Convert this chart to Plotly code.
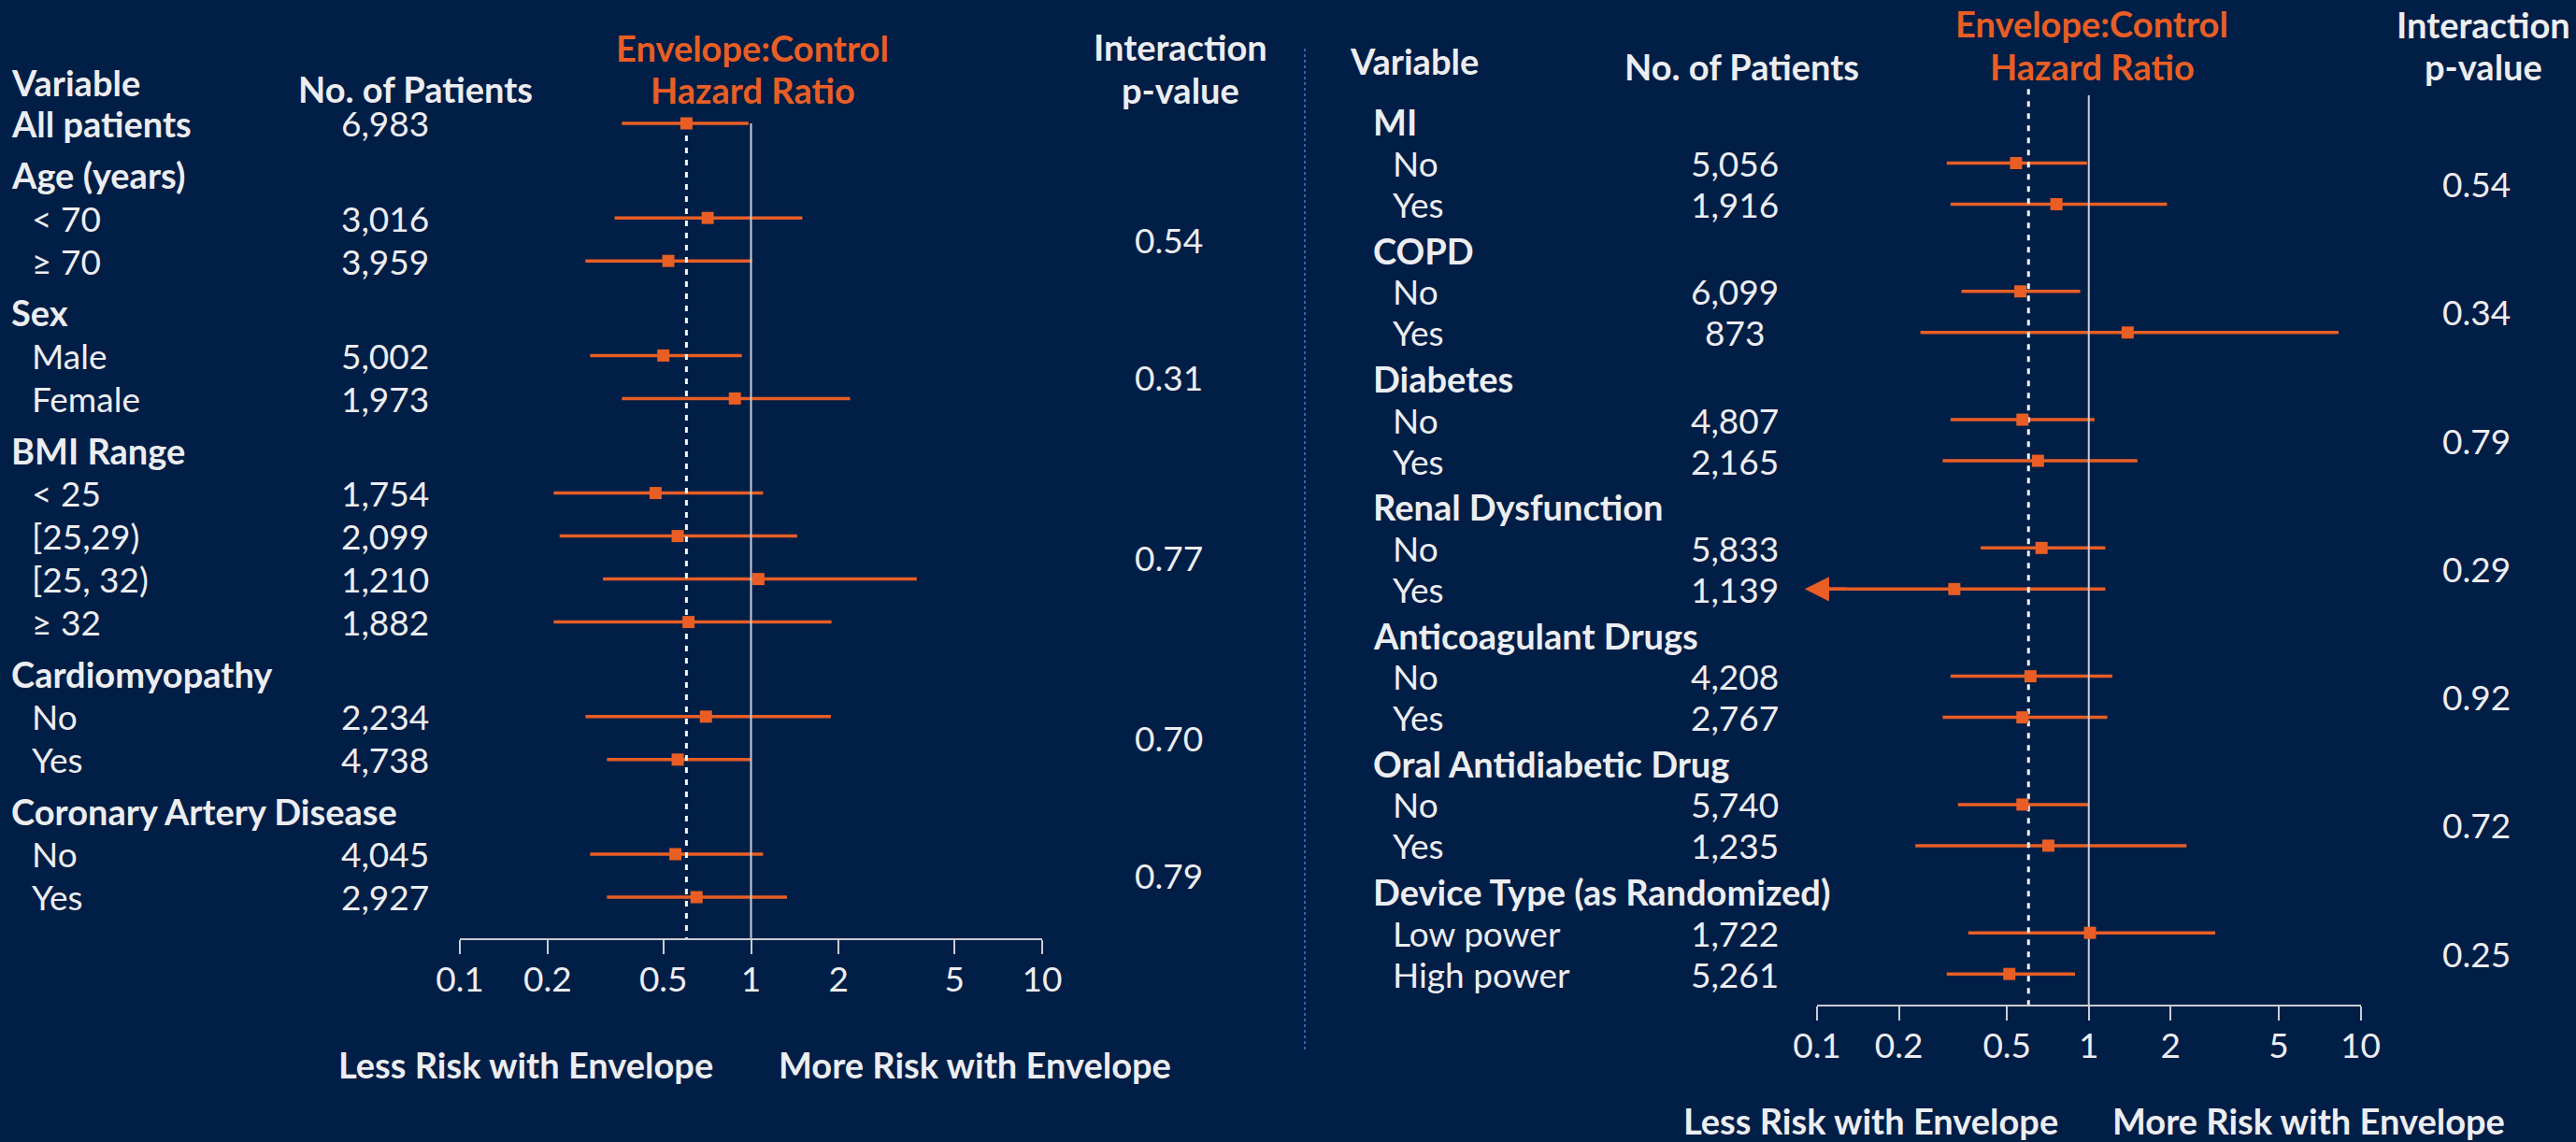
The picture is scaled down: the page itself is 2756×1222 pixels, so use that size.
import math
import plotly.graph_objects as go

# ---------------------------------------------------------------- data
# Left panel: subgroup rows (kind: overall / header / sub)
left_labels = ["All patients", "Age (years)", "< 70", "≥ 70", "Sex", "Male", "Female",
               "BMI Range", "< 25", "[25,29)", "[25, 32)", "≥ 32", "Cardiomyopathy",
               "No", "Yes", "Coronary Artery Disease", "No", "Yes"]
left_kind = ["overall", "header", "sub", "sub", "header", "sub", "sub",
             "header", "sub", "sub", "sub", "sub", "header",
             "sub", "sub", "header", "sub", "sub"]
left_n = [6983, None, 3016, 3959, None, 5002, 1973,
          None, 1754, 2099, 1210, 1882, None,
          2234, 4738, None, 4045, 2927]
left_hr = [0.60, None, 0.71, 0.52, None, 0.50, 0.88,
           None, 0.47, 0.56, 1.06, 0.61, None,
           0.70, 0.56, None, 0.55, 0.65]
left_lo = [0.36, None, 0.34, 0.27, None, 0.28, 0.36,
           None, 0.21, 0.22, 0.31, 0.21, None,
           0.27, 0.32, None, 0.28, 0.32]
left_hi = [0.98, None, 1.50, 1.01, None, 0.93, 2.19,
           None, 1.10, 1.44, 3.71, 1.89, None,
           1.88, 1.00, None, 1.10, 1.33]
left_p = ["0.54", "0.31", "0.77", "0.70", "0.79"]

# Right panel
right_labels = ["MI", "No", "Yes", "COPD", "No", "Yes", "Diabetes", "No", "Yes",
                "Renal Dysfunction", "No", "Yes", "Anticoagulant Drugs", "No", "Yes",
                "Oral Antidiabetic Drug", "No", "Yes", "Device Type (as Randomized)",
                "Low power", "High power"]
right_kind = ["header", "sub", "sub"] * 7
right_n = [None, 5056, 1916, None, 6099, 873, None, 4807, 2165,
           None, 5833, 1139, None, 4208, 2767, None, 5740, 1235, None, 1722, 5261]
right_hr = [None, 0.54, 0.76, None, 0.56, 1.39, None, 0.57, 0.65,
            None, 0.67, 0.32, None, 0.61, 0.57, None, 0.57, 0.71, None, 1.01, 0.51]
right_lo = [None, 0.30, 0.31, None, 0.34, 0.24, None, 0.31, 0.29,
            None, 0.40, 0.09, None, 0.31, 0.29, None, 0.33, 0.23, None, 0.36, 0.30]
right_hi = [None, 0.985, 1.94, None, 0.93, 8.3, None, 1.05, 1.51,
            None, 1.15, 1.15, None, 1.22, 1.17, None, 1.00, 2.29, None, 2.92, 0.89]
right_p = ["0.54", "0.34", "0.79", "0.29", "0.92", "0.72", "0.25"]

overall_hr = 0.60
tick_vals = [0.1, 0.2, 0.5, 1, 2, 5, 10]
tick_text = ["0.1", "0.2", "0.5", "1", "2", "5", "10"]
axis_min = 0.1

# ---------------------------------------------------------------- style
W, H = 2756, 1222
BG = "#011E46"
ORANGE = "#E85E25"
TEXT = "#ECEDF0"
AXIS = "#C9CDD3"
SEP = "#3561AE"
FONT = "Lato"
FS = 37       # body text
FS_BOLD = 38  # row group headers and captions
FS_HEAD = 38  # column headers


def px_x(p):
    return p / W


def px_y(p):
    return 1 - p / H


def row_positions(kinds, gap):
    pos, y = [], 0.0
    for i, k in enumerate(kinds):
        if i > 0:
            y += 1
            if k == "header":
                y += gap
        pos.append(y)
    return pos


panels = [
    dict(labels=left_labels, kind=left_kind, n=left_n, hr=left_hr, lo=left_lo, hi=left_hi,
         p=left_p, gap=0.2, row0=132, unit=46, base=1004, x_dom=(492, 1115),
         xa="x", ya="y", head_x=10, sub_x=32, n_x=412, p_x=1250,
         solid_top=0.0, dash_top=0.0,
         heads=dict(var=(10, 88), n=(444, 95), env=(805, 51), hz=(805, 96),
                    inter=(1263, 50), pv=(1263, 96)),
         risk=((562, 1139), (1043, 1139))),
    dict(labels=right_labels, kind=right_kind, n=right_n, hr=right_hr, lo=right_lo, hi=right_hi,
         p=right_p, gap=0.12, row0=130.5, unit=44, base=1075, x_dom=(1944, 2525.5),
         xa="x2", ya="y2", head_x=1467, sub_x=1488, n_x=1856, p_x=2649,
         solid_top=-0.65, dash_top=-0.8,
         heads=dict(var=(1442, 65), n=(1863, 71), env=(2238, 25), hz=(2238, 71),
                    inter=(2657, 26), pv=(2657, 71)),
         risk=((2002, 1199), (2470, 1199))),
]

fig = go.Figure()
annotations = []
layout_axes = {}
TOP_PX = 10

for i, pn in enumerate(panels):
    ys = row_positions(pn["kind"], pn["gap"])
    y_bottom = (pn["base"] - pn["row0"]) / pn["unit"]
    y_top = -(pn["row0"] - TOP_PX) / pn["unit"]
    sfx = "" if i == 0 else "2"

    layout_axes["xaxis" + sfx] = dict(
        type="log", range=[-1, 1], domain=[px_x(pn["x_dom"][0]), px_x(pn["x_dom"][1])],
        anchor=pn["ya"], showgrid=False, zeroline=False, showline=True,
        linecolor=AXIS, linewidth=2, ticks="outside", ticklen=15, tickwidth=2,
        tickcolor=AXIS, tickvals=tick_vals, ticktext=tick_text,
        tickfont=dict(family=FONT, size=FS, color=TEXT), ticklabelstandoff=-4,
        automargin=False, fixedrange=True)
    layout_axes["yaxis" + sfx] = dict(
        range=[y_bottom, y_top], domain=[px_y(pn["base"]), px_y(TOP_PX)],
        anchor=pn["xa"], visible=False, automargin=False, fixedrange=True)

    # confidence intervals
    cx, cy = [], []
    for y, lo, hi in zip(ys, pn["lo"], pn["hi"]):
        if lo is None:
            continue
        cx += [lo, hi, None]
        cy += [y, y, None]
    fig.add_trace(go.Scatter(x=cx, y=cy, mode="lines", xaxis=pn["xa"], yaxis=pn["ya"],
                             line=dict(color=ORANGE, width=3.5), hoverinfo="skip"))

    # reference lines: no effect (HR = 1) and overall estimate
    fig.add_trace(go.Scatter(x=[1, 1], y=[pn["solid_top"], y_bottom], mode="lines",
                             xaxis=pn["xa"], yaxis=pn["ya"],
                             line=dict(color=AXIS, width=2), hoverinfo="skip"))
    fig.add_trace(go.Scatter(x=[overall_hr, overall_hr], y=[pn["dash_top"], y_bottom],
                             mode="lines", xaxis=pn["xa"], yaxis=pn["ya"],
                             line=dict(color="#F4F5F7", width=3, dash="6px,7px"),
                             hoverinfo="skip"))

    # point estimates
    mx = [h for h in pn["hr"] if h is not None]
    my = [y for y, h in zip(ys, pn["hr"]) if h is not None]
    fig.add_trace(go.Scatter(x=mx, y=my, mode="markers", xaxis=pn["xa"], yaxis=pn["ya"],
                             marker=dict(symbol="square", size=13, color=ORANGE,
                                         line=dict(width=0)),
                             cliponaxis=False, hoverinfo="skip"))

    # arrows for intervals running off the scale
    for y, lo in zip(ys, pn["lo"]):
        if lo is not None and lo < axis_min:
            annotations.append(dict(
                x=math.log10(lo), y=y, ax=math.log10(0.13), ay=y,
                xref=pn["xa"], yref=pn["ya"], axref=pn["xa"], ayref=pn["ya"],
                showarrow=True, arrowhead=2, arrowsize=1.5, arrowwidth=3.5,
                arrowcolor=ORANGE, text=""))

    # row labels and patient counts
    for y, lab, k, n in zip(ys, pn["labels"], pn["kind"], pn["n"]):
        bold = k in ("overall", "header")
        x0 = pn["head_x"] if bold else pn["sub_x"]
        annotations.append(dict(
            x=px_x(x0), y=y, xref="paper", yref=pn["ya"], xanchor="left", yanchor="middle",
            text=f"<b>{lab}</b>" if bold else lab, showarrow=False,
            font=dict(family=FONT, size=FS_BOLD if bold else FS, color=TEXT)))
        if n is not None:
            annotations.append(dict(
                x=px_x(pn["n_x"]), y=y, xref="paper", yref=pn["ya"], xanchor="center",
                yanchor="middle", text=f"{n:,}", showarrow=False,
                font=dict(family=FONT, size=FS, color=TEXT)))

    # interaction p-values, centred on each group's rows
    groups, cur = [], None
    for y, k in zip(ys, pn["kind"]):
        if k == "header":
            cur = []
            groups.append(cur)
        elif k == "sub" and cur is not None:
            cur.append(y)
    for g, pv in zip(groups, pn["p"]):
        annotations.append(dict(
            x=px_x(pn["p_x"]), y=sum(g) / len(g), xref="paper", yref=pn["ya"],
            xanchor="center", yanchor="middle", text=pv, showarrow=False,
            font=dict(family=FONT, size=FS, color=TEXT)))

    # column headers
    hd = pn["heads"]
    head_items = [
        ("var", "<b>Variable</b>", TEXT, "left"),
        ("n", "<b>No. of Patients</b>", TEXT, "center"),
        ("env", "<b>Envelope:Control</b>", ORANGE, "center"),
        ("hz", "<b>Hazard Ratio</b>", ORANGE, "center"),
        ("inter", "<b>Interaction</b>", TEXT, "center"),
        ("pv", "<b>p-value</b>", TEXT, "center"),
    ]
    for key, txt, col, anc in head_items:
        hx, hy = hd[key]
        annotations.append(dict(
            x=px_x(hx), y=px_y(hy), xref="paper", yref="paper", xanchor=anc,
            yanchor="middle", text=txt, showarrow=False,
            font=dict(family=FONT, size=FS_HEAD, color=col)))

    # direction captions under the axis
    for (rx, ry), txt in zip(pn["risk"], ["Less Risk with Envelope", "More Risk with Envelope"]):
        annotations.append(dict(
            x=px_x(rx), y=px_y(ry), xref="paper", yref="paper", xanchor="center",
            yanchor="middle", text=f"<b>{txt}</b>", showarrow=False,
            font=dict(family=FONT, size=FS_BOLD, color=TEXT)))

fig.update_layout(
    width=W, height=H, autosize=False,
    margin=dict(l=0, r=0, t=0, b=0, pad=0, autoexpand=False),
    paper_bgcolor=BG, plot_bgcolor=BG, showlegend=False, hovermode=False,
    font=dict(family=FONT, size=FS, color=TEXT),
    annotations=annotations,
    shapes=[dict(type="line", xref="paper", yref="paper",
                 x0=px_x(1396), x1=px_x(1396), y0=px_y(52), y1=px_y(1125),
                 line=dict(color=SEP, width=2, dash="dot"))],
    **layout_axes,
)

fig.write_html("out.html")
